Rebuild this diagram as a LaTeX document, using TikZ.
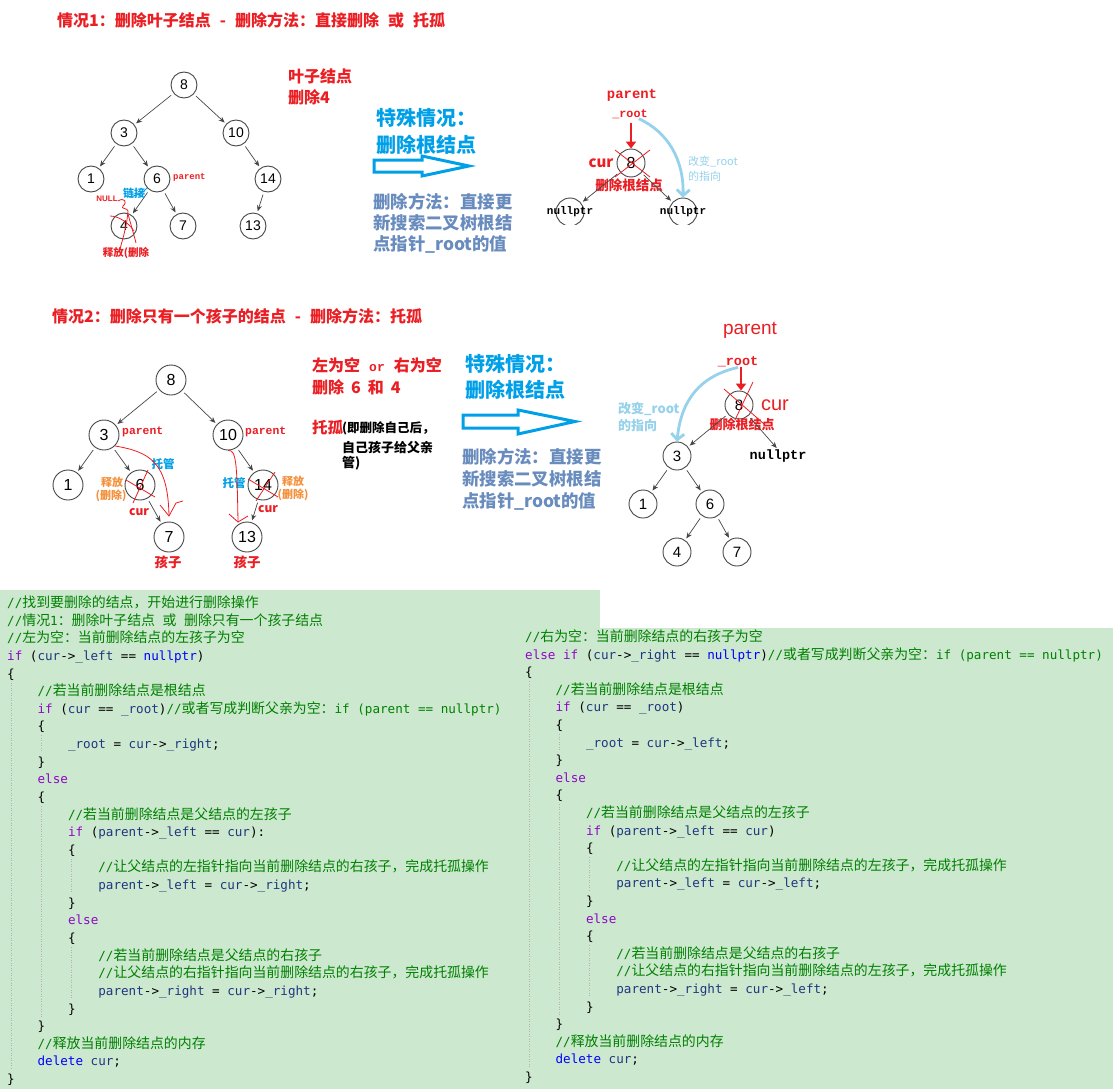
\documentclass[tikz,border=0pt]{standalone}
\usepackage{fontspec}
\usetikzlibrary{arrows.meta}
\setmainfont{Liberation Sans}
\newfontfamily\cjk{Noto Sans CJK SC}
\newfontfamily\bmono{Liberation Mono}
\newfontfamily\codemono{DejaVu Sans Mono}
\newcommand\fs[1]{\fontsize{#1}{#1}\selectfont}
\newcommand\codefont{\codemono\fontsize{12.6}{17.6}\selectfont}
\newcommand\cj[1]{{\cjk\fontsize{13.9}{17.6}\selectfont #1}}
\definecolor{tred}{RGB}{235,30,35}
\definecolor{tblue}{RGB}{0,160,233}
\definecolor{slate}{RGB}{105,140,190}
\definecolor{lblue}{RGB}{150,210,235}
\definecolor{orng}{RGB}{245,145,60}
\definecolor{codebg}{RGB}{204,232,207}
\definecolor{cmt}{RGB}{0,128,0}
\definecolor{kwd}{RGB}{143,8,196}
\definecolor{blu}{RGB}{0,0,255}
\definecolor{idn}{RGB}{31,55,127}
\definecolor{nodegray}{RGB}{70,70,70}
\newcommand\cm[1]{\textcolor{cmt}{#1}}
\newcommand\kw[1]{\textcolor{kwd}{#1}}
\newcommand\bl[1]{\textcolor{blu}{#1}}
\newcommand\id[1]{\textcolor{idn}{#1}}
\newcommand\codeL[4]{\node[codeline] (#1) at ({7+30.4*#2},{607.5+17.63*(#3-1)}) {#4};}
\newcommand\codeR[4]{\node[codeline] (#1) at ({525+30.4*#2},{641.5+17.6*(#3-1)}) {#4};}
\begin{document}
\begin{tikzpicture}[x=1pt,y=-1pt,
  tn/.style={circle, draw=nodegray, line width=0.9pt, minimum size=26pt, inner sep=0pt, fill=white, font=\fs{14}},
  tnb/.style={tn, minimum size=30pt, font=\fs{16}},
  tnc/.style={tn, minimum size=28pt, font=\fs{15}},
  edge/.style={draw=nodegray, line width=0.7pt, -{Stealth[length=6pt,width=5pt]}, shorten <=3pt, shorten >=2pt},
  lbl/.style={inner sep=0pt},
  codeline/.style={anchor=base west, inner sep=0pt, font=\codefont},
  handred/.style={draw=tred, line width=0.8pt},
  hollow/.style={draw=tblue, line width=3pt, fill=white, line join=miter},
  redarr/.style={draw=tred, line width=2.5pt, -{Triangle[length=7pt,width=10pt]}},
  lbarr/.style={draw=lblue, line width=2.8pt, -{Straight Barb[length=6pt,width=13pt]}},
  guide/.style={draw=black!30, line width=0.5pt, dash pattern=on 1pt off 1.5pt}
]
\useasboundingbox (0,0) rectangle (1113,1089);
\fill[white] (0,0) rectangle (1113,1089);
\fill[codebg] (0,590) rectangle (600,1089);
\fill[codebg] (520,628) rectangle (1113,1089);

% ===== Section 1 =====
\node[lbl, anchor=west, text=tred, font=\cjk\bfseries\fs{16}] (t1) at (57,20) {情况1：删除叶子结点\hspace{9pt}-\hspace{9pt}删除方法：直接删除\hspace{9pt}或\hspace{9pt}托孤};

\node[tn] (n8) at (184,85) {8};
\node[tn] (n3) at (124,133) {3};
\node[tn] (n10) at (236,133) {10};
\node[tn] (n1) at (91,179) {1};
\node[tn] (n6) at (157,179) {6};
\node[tn] (n14) at (268,179) {14};
\node[tn] (n4) at (124,226) {4};
\node[tn] (n7) at (183,226) {7};
\node[tn] (n13) at (253,226) {13};
\draw[edge] (n8) -- (n3);
\draw[edge] (n8) -- (n10);
\draw[edge] (n3) -- (n1);
\draw[edge] (n3) -- (n6);
\draw[edge] (n10) -- (n14);
\draw[edge] (n6) -- (n4);
\draw[edge] (n6) -- (n7);
\draw[edge] (n14) -- (n13);

\node[lbl, anchor=west, text=tred, font=\bmono\bfseries\fs{9}] (p1) at (173,177) {parent};
\node[lbl, text=tblue, font=\cjk\bfseries\fs{11}] (lj) at (134,193) {链接};
\node[lbl, text=tred, font=\bfseries\fs{8}] (null1) at (107,199) {NULL};
\node[lbl, text=tred, font=\cjk\bfseries\fs{10.5}] (sf1) at (126,253) {释放(删除};
\draw[handred] (118,201) .. controls (124,197) and (128,202) .. (123,206) .. controls (120,209) and (128,208) .. (128,211);
\draw[handred] (128,211) .. controls (127,225) and (123,238) .. (120,249);
\draw[handred] (128,214) .. controls (131,225) and (134,235) .. (136,243);
\draw[handred] (110,216) .. controls (118,216) and (128,222) .. (134,231);
\draw[draw=tblue, line width=0.9pt] (147,188) .. controls (143,194) and (135,196) .. (127,197);

\node[lbl, anchor=west, text=tred, font=\cjk\bfseries\fs{16}] (yz) at (288,76) {叶子结点};
\node[lbl, anchor=west, text=tred, font=\cjk\bfseries\fs{16}] (sc4) at (288,97) {删除4};

\node[lbl, anchor=west, text=tblue, font=\cjk\bfseries\fs{20}] (ts1) at (376,118) {特殊情况：};
\node[lbl, anchor=west, text=tblue, font=\cjk\bfseries\fs{20}] (ts2) at (376,145) {删除根结点};
\draw[hollow] (374,160) -- (422,160) -- (422,156) -- (469,166) -- (422,176) -- (422,172) -- (374,172) -- cycle;
\node[lbl, anchor=west, text=slate, font=\cjk\bfseries\fs{17.4}] (m1) at (373,202) {删除方法：直接更};
\node[lbl, anchor=west, text=slate, font=\cjk\bfseries\fs{17.4}] (m2) at (373,223) {新搜索二叉树根结};
\node[lbl, anchor=west, text=slate, font=\cjk\bfseries\fs{17.4}] (m3) at (373,244) {点指针\_root的值};

% top right
\node[lbl, text=tred, font=\bmono\bfseries\fs{13.9}] (parA) at (632,95) {parent};
\node[lbl, text=tred, font=\bmono\bfseries\fs{11.7}] (rootA) at (630,114) {\_root};
\node[tn, minimum size=28pt, font=\fs{16}] (r8) at (631,163) {8};
\draw[handred] (615,150) -- (650,177);
\draw[handred] (650,150) -- (615,177);
\draw[redarr] (rootA.south -| r8) ++(0,4) -- (r8.north);
\node[lbl, text=tred, font=\cjk\bfseries\fs{15}] (curA) at (601,163) {cur};
\node[lbl, text=tred, font=\cjk\bfseries\fs{13.5}] (scA) at (629,185) {删除根结点};
\begin{scope}
\clip (540,190) rectangle (720,224);
\node[circle, draw=nodegray, line width=0.9pt, minimum size=28pt, inner sep=0pt] (nl) at (570,212) {};
\node[circle, draw=nodegray, line width=0.9pt, minimum size=28pt, inner sep=0pt] (nr) at (683,212) {};
\end{scope}
\node[lbl, font=\bmono\bfseries\fs{11}] (nlt) at (570,212) {nullptr};
\node[lbl, font=\bmono\bfseries\fs{11}] (nrt) at (683,212) {nullptr};
\draw[edge] (r8) -- (nl);
\draw[edge] (r8) -- (nr);
\draw[lbarr] ([xshift=-9pt]rootA.south east) .. controls (668,132) and (684,160) .. (nr.north);
\node[lbl, anchor=west, text=lblue, font=\cjk\fs{11}] (gbA) at (688,162) {改变\_root};
\node[lbl, anchor=west, text=lblue, font=\cjk\fs{11}] (zxA) at (688,176) {的指向};

% ===== Section 2 =====
\node[lbl, anchor=west, text=tred, font=\cjk\bfseries\fs{16}] (t2) at (52,316) {情况2：删除只有一个孩子的结点\hspace{9pt}-\hspace{9pt}删除方法：托孤};

\node[tnb] (a8) at (171,380) {8};
\node[tnb] (a3) at (104,435) {3};
\node[tnb] (a10) at (228,435) {10};
\node[tnb] (a1) at (68,485) {1};
\node[tnb] (a6) at (140,485) {6};
\node[tnb] (a14) at (263,485) {14};
\node[tnb] (a7) at (169,537) {7};
\node[tnb] (a13) at (247,537) {13};
\draw[edge] (a8) -- (a3);
\draw[edge] (a8) -- (a10);
\draw[edge] (a3) -- (a1);
\draw[edge] (a3) -- (a6);
\draw[edge] (a10) -- (a14);
\draw[edge] (a6) -- (a7);
\draw[edge] (a14) -- (a13);

\node[lbl, anchor=west, text=tred, font=\bmono\bfseries\fs{11.4}] (pa3) at (122,432) {parent};
\node[lbl, anchor=west, text=tred, font=\bmono\bfseries\fs{11.4}] (pa10) at (245,432) {parent};
\node[lbl, text=tblue, font=\cjk\bfseries\fs{11.5}] (tg1) at (163,464) {托管};
\node[lbl, text=orng, font=\cjk\bfseries\fs{11}] (sfa) at (112,482) {释放};
\node[lbl, text=orng, font=\cjk\bfseries\fs{11}] (sfb) at (111,496) {(删除)};
\node[lbl, text=tred, font=\cjk\bfseries\fs{12}] (cur6) at (139,512) {cur};
\node[lbl, text=tred, font=\cjk\bfseries\fs{13.5}] (hz7) at (168,562) {孩子};
\node[lbl, text=tblue, font=\cjk\bfseries\fs{11.5}] (tg2) at (234,483) {托管};
\node[lbl, text=orng, font=\cjk\bfseries\fs{11}] (sfc) at (293,481) {释放};
\node[lbl, text=orng, font=\cjk\bfseries\fs{11}] (sfd) at (293,495) {(删除)};
\node[lbl, text=tred, font=\cjk\bfseries\fs{12}] (cur14) at (268,509) {cur};
\node[lbl, text=tred, font=\cjk\bfseries\fs{13.5}] (hz13) at (247,562) {孩子};

\draw[handred] (a3.south east) .. controls (150,452) and (168,462) .. (169,516);
\draw[handred] (160,505) -- (169,516) -- (176,503) -- (183,501);
\draw[handred] (148,470) -- (133,503);
\draw[handred] (126,480) -- (155,497);
\draw[handred] (a10.south) .. controls (236,450) and (237,460) .. (238,522);
\draw[handred] (229,514) -- (238,522) -- (248,516);
\draw[handred] (248,479) -- (278,497);
\draw[handred] (275,472) -- (256,501);

\node[lbl, anchor=west, text=tred, font=\cjk\bfseries\fs{16}] (lk1) at (312,365) {左为空\hspace{9pt}{\bmono\bfseries\fs{13}or}\hspace{9pt}右为空};
\node[lbl, anchor=west, text=tred, font=\cjk\bfseries\fs{16}] (lk2) at (312,387) {删除\hspace{7pt}6\hspace{7pt}和\hspace{7pt}4};
\node[lbl, anchor=west, text=tred, font=\cjk\bfseries\fs{15.5}] (tgu) at (312,427) {托孤};
\node[lbl, anchor=west, font=\cjk\bfseries\fs{12.5}] (e1) at (342,428) {(即删除自己后，};
\node[lbl, anchor=west, font=\cjk\bfseries\fs{13}] (e2) at (342,447) {自己孩子给父亲};
\node[lbl, anchor=west, font=\cjk\bfseries\fs{13}] (e3) at (342,463) {管)};

\node[lbl, anchor=west, text=tblue, font=\cjk\bfseries\fs{20}] (ts3) at (465,364) {特殊情况：};
\node[lbl, anchor=west, text=tblue, font=\cjk\bfseries\fs{20}] (ts4) at (465,390) {删除根结点};
\draw[hollow] (463,415) -- (518,415) -- (518,410) -- (575,421.5) -- (518,434) -- (518,428) -- (463,428) -- cycle;
\node[lbl, anchor=west, text=slate, font=\cjk\bfseries\fs{17.4}] (m4) at (462,457) {删除方法：直接更};
\node[lbl, anchor=west, text=slate, font=\cjk\bfseries\fs{17.4}] (m5) at (462,479) {新搜索二叉树根结};
\node[lbl, anchor=west, text=slate, font=\cjk\bfseries\fs{17.4}] (m6) at (462,501) {点指针\_root的值};

\node[lbl, text=tred, font=\fs{19}] (parB) at (750,330) {parent};
\node[lbl, text=tred, font=\bmono\bfseries\fs{13.5}] (rootB) at (738,362) {\_root};
\node[tnc] (b8) at (739,405) {8};
\draw[handred] (724,389) -- (764,424);
\draw[handred] (753,382) -- (735,420);
\draw[redarr] ([xshift=3pt]rootB.south) -- ([xshift=2pt]b8.north);
\node[lbl, text=tred, font=\fs{20}] (curB) at (775,405) {cur};
\node[lbl, text=tred, font=\cjk\bfseries\fs{13}] (scB) at (742,425) {删除根结点};
\node[lbl, anchor=west, text=lblue, font=\cjk\bfseries\fs{13}] (gbB) at (618,409) {改变\_root};
\node[lbl, anchor=west, text=lblue, font=\cjk\bfseries\fs{13}] (zxB) at (618,426) {的指向};
\node[tnc] (b3) at (677,456) {3};
\node[lbl, font=\bmono\bfseries\fs{13.5}] (bnull) at (778,456) {nullptr};
\node[tnc] (b1) at (643,504) {1};
\node[tnc] (b6) at (710,504) {6};
\node[tnc] (b4) at (677,552) {4};
\node[tnc] (b7) at (737,552) {7};
\draw[edge] (b8) -- (b3);
\draw[edge] (b8) -- (bnull.north);
\draw[edge] (b3) -- (b1);
\draw[edge] (b3) -- (b6);
\draw[edge] (b6) -- (b4);
\draw[edge] (b6) -- (b7);
\draw[lbarr] (rootB.south) .. controls (700,376) and (681,400) .. (b3.north);

% ===== Code: left =====
\draw[guide] (10.8,682.5) -- (10.8,1070);
\draw[guide] (41.2,735.4) -- (41.2,752.7);
\draw[guide] (41.2,806) -- (41.2,1017);
\draw[guide] (71.6,858.8) -- (71.6,893.7);
\draw[guide] (71.6,947) -- (71.6,999.5);
\codeL{la1}{0}{1}{\cm{//\cj{找到要删除的结点，开始进行删除操作}}}
\codeL{la2}{0}{2}{\cm{//\cj{情况}1\cj{：删除叶子结点} \cj{或} \cj{删除只有一个孩子结点}}}
\codeL{la3}{0}{3}{\cm{//\cj{左为空：当前删除结点的左孩子为空}}}
\codeL{la4}{0}{4}{\kw{if} (\id{cur}->\id{\_left} == \bl{nullptr})}
\codeL{la5}{0}{5}{\{}
\codeL{la6}{1}{6}{\cm{//\cj{若当前删除结点是根结点}}}
\codeL{la7}{1}{7}{\kw{if} (\id{cur} == \id{\_root})\cm{//\cj{或者写成判断父亲为空：}if (parent == nullptr)}}
\codeL{la8}{1}{8}{\{}
\codeL{la9}{2}{9}{\id{\_root} = \id{cur}->\id{\_right};}
\codeL{la10}{1}{10}{\}}
\codeL{la11}{1}{11}{\kw{else}}
\codeL{la12}{1}{12}{\{}
\codeL{la13}{2}{13}{\cm{//\cj{若当前删除结点是父结点的左孩子}}}
\codeL{la14}{2}{14}{\kw{if} (\id{parent}->\id{\_left} == \id{cur}):}
\codeL{la15}{2}{15}{\{}
\codeL{la16}{3}{16}{\cm{//\cj{让父结点的左指针指向当前删除结点的右孩子，完成托孤操作}}}
\codeL{la17}{3}{17}{\id{parent}->\id{\_left} = \id{cur}->\id{\_right};}
\codeL{la18}{2}{18}{\}}
\codeL{la19}{2}{19}{\kw{else}}
\codeL{la20}{2}{20}{\{}
\codeL{la21}{3}{21}{\cm{//\cj{若当前删除结点是父结点的右孩子}}}
\codeL{la22}{3}{22}{\cm{//\cj{让父结点的右指针指向当前删除结点的右孩子，完成托孤操作}}}
\codeL{la23}{3}{23}{\id{parent}->\id{\_right} = \id{cur}->\id{\_right};}
\codeL{la24}{2}{24}{\}}
\codeL{la25}{1}{25}{\}}
\codeL{la26}{1}{26}{\cm{//\cj{释放当前删除结点的内存}}}
\codeL{la27}{1}{27}{\bl{delete} \id{cur};}
\codeL{la28}{0}{28}{\}}

% ===== Code: right =====
\draw[guide] (528.8,681.2) -- (528.8,1068);
\draw[guide] (559.2,734) -- (559.2,751.2);
\draw[guide] (559.2,804.4) -- (559.2,1015.2);
\draw[guide] (589.6,857.2) -- (589.6,892);
\draw[guide] (589.6,945.2) -- (589.6,997.6);
\codeR{ra1}{0}{1}{\cm{//\cj{右为空：当前删除结点的右孩子为空}}}
\codeR{ra2}{0}{2}{\kw{else} \kw{if} (\id{cur}->\id{\_right} == \bl{nullptr})\cm{//\cj{或者写成判断父亲为空：}if (parent == nullptr)}}
\codeR{ra3}{0}{3}{\{}
\codeR{ra4}{1}{4}{\cm{//\cj{若当前删除结点是根结点}}}
\codeR{ra5}{1}{5}{\kw{if} (\id{cur} == \id{\_root})}
\codeR{ra6}{1}{6}{\{}
\codeR{ra7}{2}{7}{\id{\_root} = \id{cur}->\id{\_left};}
\codeR{ra8}{1}{8}{\}}
\codeR{ra9}{1}{9}{\kw{else}}
\codeR{ra10}{1}{10}{\{}
\codeR{ra11}{2}{11}{\cm{//\cj{若当前删除结点是父结点的左孩子}}}
\codeR{ra12}{2}{12}{\kw{if} (\id{parent}->\id{\_left} == \id{cur})}
\codeR{ra13}{2}{13}{\{}
\codeR{ra14}{3}{14}{\cm{//\cj{让父结点的左指针指向当前删除结点的左孩子，完成托孤操作}}}
\codeR{ra15}{3}{15}{\id{parent}->\id{\_left} = \id{cur}->\id{\_left};}
\codeR{ra16}{2}{16}{\}}
\codeR{ra17}{2}{17}{\kw{else}}
\codeR{ra18}{2}{18}{\{}
\codeR{ra19}{3}{19}{\cm{//\cj{若当前删除结点是父结点的右孩子}}}
\codeR{ra20}{3}{20}{\cm{//\cj{让父结点的右指针指向当前删除结点的左孩子，完成托孤操作}}}
\codeR{ra21}{3}{21}{\id{parent}->\id{\_right} = \id{cur}->\id{\_left};}
\codeR{ra22}{2}{22}{\}}
\codeR{ra23}{1}{23}{\}}
\codeR{ra24}{1}{24}{\cm{//\cj{释放当前删除结点的内存}}}
\codeR{ra25}{1}{25}{\bl{delete} \id{cur};}
\codeR{ra26}{0}{26}{\}}
\end{tikzpicture}
\end{document}
